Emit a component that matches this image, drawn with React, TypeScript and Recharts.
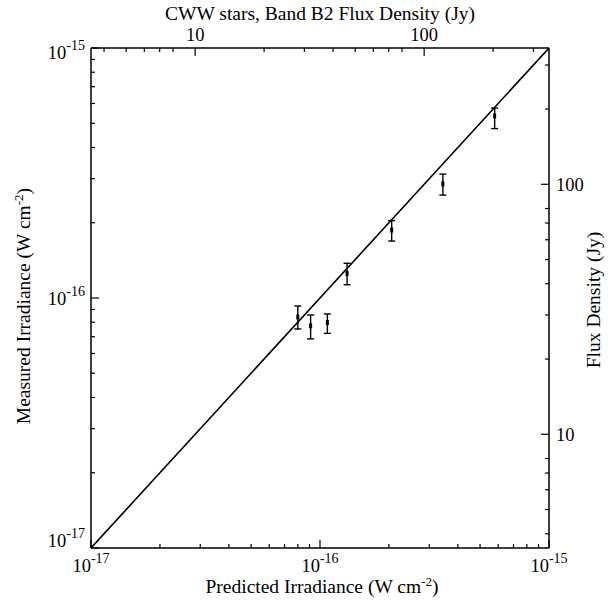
import React from 'react';
import { ScatterChart, Scatter, XAxis, YAxis, ErrorBar, Label } from 'recharts';

// band B2: W cm^-2 per Jy
const JY = 2.85e-18;

const predicted = [8.0e-17, 9.1e-17, 1.077e-16, 1.313e-16, 2.056e-16, 3.44e-16, 5.79e-16];
const measured = [8.4e-17, 7.73e-17, 7.98e-17, 1.253e-16, 1.87e-16, 2.86e-16, 5.35e-16];
const measuredLow = [7.52e-17, 6.86e-17, 7.22e-17, 1.13e-16, 1.69e-16, 2.58e-16, 4.76e-16];
const measuredHigh = [9.29e-17, 8.55e-17, 8.63e-17, 1.377e-16, 2.04e-16, 3.13e-16, 5.75e-16];

const irrTicks = [
  1e-17, 2e-17, 3e-17, 4e-17, 5e-17, 6e-17, 7e-17, 8e-17, 9e-17,
  1e-16, 2e-16, 3e-16, 4e-16, 5e-16, 6e-16, 7e-16, 8e-16, 9e-16, 1e-15,
];
const jyTicks = [4, 5, 6, 7, 8, 10, 20, 30, 40, 50, 60, 70, 80, 100, 200, 300];
const jyMajor = [10, 100];

const diagonal = [{ x: 1e-17, y: 1e-17 }, { x: 1e-15, y: 1e-15 }];

const points = predicted.map((p, i) => ({
  x: p,
  y: measured[i],
  err: [measured[i] - measuredLow[i], measuredHigh[i] - measured[i]],
}));

// flux density ticks placed on the irradiance scale
const jyAsIrr = jyTicks.map((j) => j * JY);

const FONT = '"Liberation Serif", "Times New Roman", serif';
const BIG = 18.5;
const TITLE = 19.5;
const SUP = 14;

const isDecade = (v: number) => {
  const l = Math.log10(v);
  return Math.abs(l - Math.round(l)) < 1e-6;
};

const Pow = ({ x, y, exp, anchor }: any) => (
  <text x={x} y={y} textAnchor={anchor} fontFamily={FONT} fontSize={BIG} fill="#000">
    10
    <tspan dy={-9} fontSize={SUP}>{`-${exp}`}</tspan>
  </text>
);

const makeTick = (side: 'bottom' | 'top' | 'left' | 'right') => (props: any) => {
  const { x, y, payload } = props;
  const v = payload.value;
  const flux = side === 'top' || side === 'right';
  const jy = Math.round(v / JY);
  const major = flux ? jyMajor.includes(jy) : isDecade(v);
  const len = major ? 8 : 4;
  let line;
  if (side === 'bottom') line = <line x1={x} y1={y} x2={x} y2={y - len} />;
  else if (side === 'top') line = <line x1={x} y1={y} x2={x} y2={y + len} />;
  else if (side === 'left') line = <line x1={x} y1={y} x2={x + len} y2={y} />;
  else line = <line x1={x} y1={y} x2={x - len} y2={y} />;

  let label = null;
  if (major) {
    const e = -Math.round(Math.log10(v));
    if (side === 'bottom') label = <Pow x={x} y={y + 24} exp={e} anchor="middle" />;
    if (side === 'left') {
      const dy = e === 15 ? 11 : e === 17 ? -1 : 7;
      label = <Pow x={x - 6} y={y + dy} exp={e} anchor="end" />;
    }
    if (side === 'top')
      label = (
        <text x={x} y={y - 7} textAnchor="middle" fontFamily={FONT} fontSize={BIG} fill="#000">
          {jy}
        </text>
      );
    if (side === 'right')
      label = (
        <text x={x + 7} y={y + 7} textAnchor="start" fontFamily={FONT} fontSize={BIG} fill="#000">
          {jy}
        </text>
      );
  }
  return (
    <g>
      <g stroke="#000" strokeWidth={1.2}>{line}</g>
      {label}
    </g>
  );
};

const Unit = () => (
  <>
    (W cm<tspan dy={-7} fontSize={13}>-2</tspan>
    <tspan dy={7}>)</tspan>
  </>
);

const BottomTitle = ({ viewBox }: any) => (
  <text x={viewBox.x + viewBox.width / 2 + 2} y={viewBox.y + 45} textAnchor="middle" fontFamily={FONT} fontSize={TITLE} fill="#000">
    Predicted Irradiance <Unit />
  </text>
);

const TopTitle = ({ viewBox }: any) => (
  <text x={viewBox.x + viewBox.width / 2} y={viewBox.y + 20} textAnchor="middle" fontFamily={FONT} fontSize={TITLE} fill="#000">
    CWW stars, Band B2 Flux Density (Jy)
  </text>
);

const LeftTitle = ({ viewBox }: any) => {
  const cx = viewBox.x + 30;
  const cy = viewBox.y + viewBox.height / 2 + 8;
  return (
    <text x={cx} y={cy} transform={`rotate(-90, ${cx}, ${cy})`} textAnchor="middle" fontFamily={FONT} fontSize={TITLE} fill="#000">
      Measured Irradiance <Unit />
    </text>
  );
};

const RightTitle = ({ viewBox }: any) => {
  const cx = viewBox.x + 51;
  const cy = viewBox.y + viewBox.height / 2 + 2;
  return (
    <text x={cx} y={cy} transform={`rotate(-90, ${cx}, ${cy})`} textAnchor="middle" fontFamily={FONT} fontSize={TITLE} fill="#000">
      Flux Density (Jy)
    </text>
  );
};

const Dot = ({ cx, cy }: any) => <rect x={cx - 1.5} y={cy - 2.5} width={3} height={5} fill="#000" />;
const NoDot = () => <g />;

const irrDomain = [1e-17, 1e-15];

const axisCommon = {
  type: 'number' as const,
  scale: 'log' as const,
  domain: irrDomain,
  interval: 0 as const,
  allowDataOverflow: true,
  tickSize: 0,
  tickMargin: 0,
  tickLine: false,
  axisLine: { stroke: '#000', strokeWidth: 1.5 },
};

export default function App() {
  return (
    <div style={{ position: 'absolute', left: 0, top: 0, background: '#fff' }}>
      <ScatterChart width={608} height={606} margin={{ top: 0, right: 0, bottom: 0, left: 0 }}>
        <XAxis {...axisCommon} xAxisId="irr" dataKey="x" ticks={irrTicks} orientation="bottom" height={58} tick={makeTick('bottom')}>
          <Label content={BottomTitle} />
        </XAxis>
        <XAxis {...axisCommon} xAxisId="top" dataKey="x" ticks={jyAsIrr} orientation="top" height={48} tick={makeTick('top')}>
          <Label content={TopTitle} />
        </XAxis>
        <YAxis {...axisCommon} yAxisId="irr" dataKey="y" ticks={irrTicks} orientation="left" width={91} tick={makeTick('left')}>
          <Label content={LeftTitle} />
        </YAxis>
        <YAxis {...axisCommon} yAxisId="right" dataKey="y" ticks={jyAsIrr} orientation="right" width={59} tick={makeTick('right')}>
          <Label content={RightTitle} />
        </YAxis>
        <Scatter
          xAxisId="top"
          yAxisId="right"
          data={diagonal}
          line={{ stroke: '#000', strokeWidth: 1.6 }}
          shape={NoDot}
          isAnimationActive={false}
        />
        <Scatter xAxisId="irr" yAxisId="irr" data={points} shape={Dot} isAnimationActive={false}>
          <ErrorBar dataKey="err" direction="y" width={3.5} stroke="#000" strokeWidth={1.4} isAnimationActive={false} />
        </Scatter>
      </ScatterChart>
    </div>
  );
}
